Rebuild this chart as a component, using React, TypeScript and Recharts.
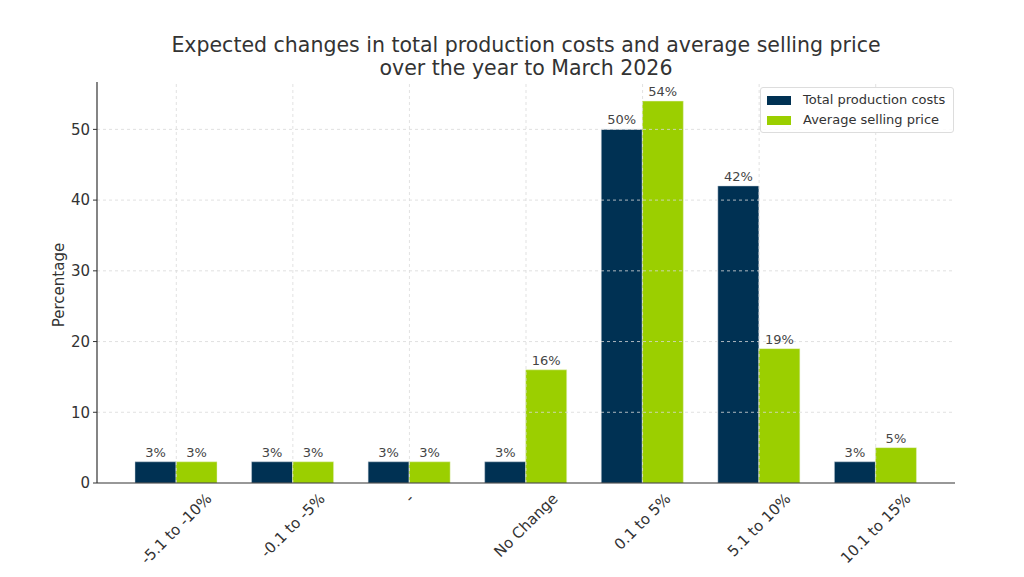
import React from "react";
import {
  BarChart,
  Bar,
  XAxis,
  YAxis,
  ReferenceLine,
  Legend,
  LabelList,
} from "recharts";

const categories = [
  "-5.1 to -10%",
  "-0.1 to -5%",
  "-",
  "No Change",
  "0.1 to 5%",
  "5.1 to 10%",
  "10.1 to 15%",
];
const productionCosts = [3, 3, 3, 3, 50, 42, 3];
const sellingPrice = [3, 3, 3, 16, 54, 19, 5];
const yTicks = [0, 10, 20, 30, 40, 50];

const NAVY = "#003153";
const GREEN = "#9bcf00";
const FONT = "DejaVu Sans, sans-serif";
const GRID = "#d9d9d9";

const data = categories.map((name, i) => ({
  name,
  costs: productionCosts[i],
  price: sellingPrice[i],
}));

let ctx: CanvasRenderingContext2D | null = null;
const measure = (s: string, size: number) => {
  if (!ctx) ctx = document.createElement("canvas").getContext("2d");
  if (!ctx) return s.length * size * 0.55;
  ctx.font = `${size}px "DejaVu Sans"`;
  return ctx.measureText(s).width;
};

const XTick = (props: any) => {
  const { x, y, payload } = props;
  const size = 15;
  const w = measure(String(payload.value), size);
  const box = (w + size * 1.15) * Math.SQRT1_2;
  const cy = y + 7 + box / 2;
  return (
    <text
      x={x}
      y={cy}
      textAnchor="middle"
      dominantBaseline="central"
      transform={`rotate(-45, ${x}, ${cy})`}
      fontSize={size}
      fontFamily={FONT}
      fill="#333"
    >
      {payload.value}
    </text>
  );
};

const renderLegend = () => (
  <div
    style={{
      border: "1px solid #ddd",
      borderRadius: 3,
      background: "rgba(255,255,255,0.85)",
      padding: "2px 8px 2px 6px",
      fontFamily: FONT,
      fontSize: 13,
      color: "#333",
      lineHeight: "20px",
    }}
  >
    {[
      ["Total production costs", NAVY],
      ["Average selling price", GREEN],
    ].map(([label, color]) => (
      <div key={label} style={{ display: "flex", alignItems: "center" }}>
        <span
          style={{
            width: 24,
            height: 9,
            background: color,
            marginRight: 12,
            display: "inline-block",
          }}
        />
        {label}
      </div>
    ))}
  </div>
);

export default function App() {
  return (
    <div
      style={{
        position: "absolute",
        left: 0,
        top: 0,
        width: 1024,
        height: 577,
        background: "#fff",
      }}
    >
      <BarChart
        width={1024}
        height={577}
        data={data}
        margin={{ top: 82, right: 69, bottom: 0, left: 0 }}
        barGap={0}
        barSize={41}
      >
        <XAxis
          dataKey="name"
          interval={0}
          tick={<XTick />}
          tickLine={false}
          tickSize={0}
          tickMargin={0}
          axisLine={{ stroke: "#333", strokeWidth: 1.2 }}
          padding={{ left: 21, right: 21 }}
          height={94}
        />
        <YAxis
          width={97}
          domain={[0, 56.7]}
          ticks={yTicks}
          allowDataOverflow
          tickSize={4}
          tickMargin={3}
          tickLine={{ stroke: "#333" }}
          axisLine={{ stroke: "#333", strokeWidth: 1.2 }}
          tick={{ fontSize: 15, fontFamily: FONT, fill: "#333" }}
        />
        {yTicks.slice(1).map((t) => (
          <ReferenceLine
            key={`h${t}`}
            y={t}
            stroke={GRID}
            strokeOpacity={0.8}
            strokeDasharray="3 3"
          />
        ))}
        {categories.map((c) => (
          <ReferenceLine
            key={`v${c}`}
            x={c}
            stroke={GRID}
            strokeOpacity={0.8}
            strokeDasharray="3 3"
          />
        ))}
        <Legend
          layout="vertical"
          align="center"
          verticalAlign="middle"
          content={renderLegend}
          wrapperStyle={{ position: "absolute", left: 760, top: 87, width: "auto" }}
        />
        <Bar
          dataKey="costs"
          name="Total production costs"
          fill={NAVY}
          stroke="#c8d2dc"
          strokeWidth={0.8}
          strokeOpacity={0.6}
          isAnimationActive={false}
        >
          <LabelList
            dataKey="costs"
            position="top"
            offset={5}
            formatter={(v: any) => `${v}%`}
            style={{ fontSize: 13, fontFamily: FONT, fill: "#444", stroke: "none" }}
          />
        </Bar>
        <Bar
          dataKey="price"
          name="Average selling price"
          fill={GREEN}
          stroke="#e6f0c8"
          strokeWidth={0.8}
          strokeOpacity={0.6}
          isAnimationActive={false}
        >
          <LabelList
            dataKey="price"
            position="top"
            offset={5}
            formatter={(v: any) => `${v}%`}
            style={{ fontSize: 13, fontFamily: FONT, fill: "#444", stroke: "none" }}
          />
        </Bar>
      </BarChart>
      <svg
        width={1024}
        height={577}
        style={{ position: "absolute", left: 0, top: 0, pointerEvents: "none" }}
      >
        <text
          x={526}
          y={52}
          textAnchor="middle"
          fontSize={20.5}
          fontFamily={FONT}
          fill="#333"
        >
          Expected changes in total production costs and average selling price
        </text>
        <text
          x={526}
          y={75}
          textAnchor="middle"
          fontSize={20.5}
          fontFamily={FONT}
          fill="#333"
        >
          over the year to March 2026
        </text>
        <text
          x={64}
          y={285}
          textAnchor="middle"
          transform="rotate(-90, 64, 285)"
          fontSize={15}
          fontFamily={FONT}
          fill="#333"
        >
          Percentage
        </text>
      </svg>
    </div>
  );
}
